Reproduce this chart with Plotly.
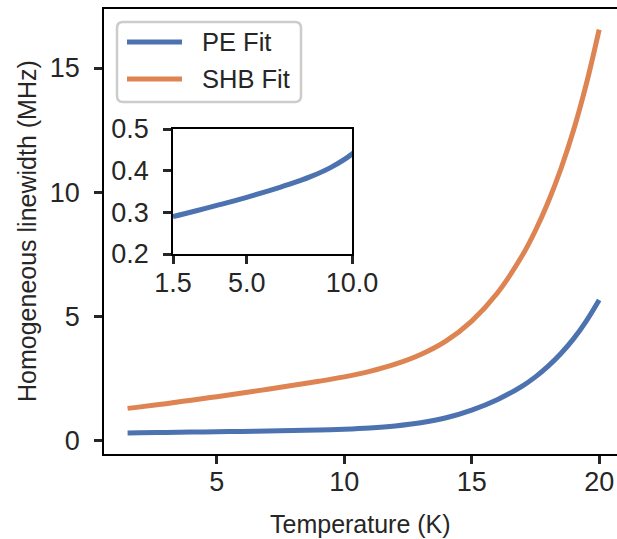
import plotly.graph_objects as go

# Fitted homogeneous linewidths (MHz) versus temperature (K)
temperature = [1.5, 2, 3, 4, 5, 6, 7, 8, 9, 10, 11, 12, 13, 14, 15, 16, 17, 17.5, 18, 18.5, 19, 19.5, 20]
pe_fit = [0.29, 0.296, 0.309, 0.322, 0.336, 0.351, 0.367, 0.385, 0.408, 0.44, 0.49, 0.572, 0.70, 0.90,
          1.21, 1.63, 2.19, 2.55, 2.98, 3.49, 4.09, 4.81, 5.65]
shb_fit = [1.28, 1.34, 1.47, 1.61, 1.75, 1.90, 2.05, 2.21, 2.37, 2.55, 2.77, 3.06, 3.45, 4.00,
           4.80, 5.92, 7.47, 8.45, 9.60, 10.94, 12.51, 14.37, 16.55]

x_ticks = [5, 10, 15, 20]
y_ticks = [0, 5, 10, 15]
inset_x_ticks = [1.5, 5.0, 10.0]
inset_x_labels = ["1.5", "5.0", "10.0"]
inset_y_ticks = [0.2, 0.3, 0.4, 0.5]

BLUE = "#4C72B0"
ORANGE = "#DD8452"
INK = "#262626"
FONT = "Liberation Sans, Arial, sans-serif"
TICK_SIZE = 27
LABEL_SIZE = 25
LEGEND_SIZE = 25.5
LINE_W = 5

W, H = 617, 539
ML, MR, MT, MB = 104, 0, 9, 85
PW, PH = W - ML - MR, H - MT - MB


def px(x):
    return (x - ML) / PW


def py(y):
    return (H - MB - y) / PH


fig = go.Figure()
fig.add_trace(go.Scatter(x=temperature, y=pe_fit, mode="lines", name="PE Fit",
                         line=dict(color=BLUE, width=LINE_W, shape="spline"), showlegend=False))
fig.add_trace(go.Scatter(x=temperature, y=shb_fit, mode="lines", name="SHB Fit",
                         line=dict(color=ORANGE, width=LINE_W, shape="spline"), showlegend=False))
# inset: PE fit at low temperature
fig.add_trace(go.Scatter(x=temperature, y=pe_fit, mode="lines", name="PE Fit",
                         line=dict(color=BLUE, width=LINE_W, shape="spline"), showlegend=False,
                         xaxis="x2", yaxis="y2"))

axis_common = dict(showgrid=False, zeroline=False, ticks="outside", ticklen=8, tickwidth=2.5,
                   tickcolor=INK, linecolor="black", linewidth=1.6, automargin=False,
                   tickfont=dict(family=FONT, size=TICK_SIZE, color=INK))

fig.update_layout(
    width=W, height=H,
    margin=dict(l=ML, r=MR, t=MT, b=MB),
    paper_bgcolor="white", plot_bgcolor="white",
    font=dict(family=FONT, color=INK),
    xaxis=dict(axis_common, range=[0.575, 20.7], tickvals=x_ticks, mirror=True, showline=True,
               ticklabelstandoff=-5),
    yaxis=dict(axis_common, range=[-0.56, 17.38], tickvals=y_ticks, showline=True,
               ticklabelstandoff=9),
    xaxis2=dict(axis_common, domain=[px(173), px(352)], anchor="y2", range=[1.5, 10],
                tickvals=inset_x_ticks, ticktext=inset_x_labels, mirror=True, showline=True,
                ticklabelstandoff=-4),
    yaxis2=dict(axis_common, domain=[py(254), py(129)], anchor="x2", range=[0.2, 0.5],
                tickvals=inset_y_ticks, tickformat=".1f", mirror=True, showline=True,
                ticklabelstandoff=9),
)

# axis titles
fig.add_annotation(x=px(360), y=py(524), xref="paper", yref="paper", text="Temperature (K)",
                   showarrow=False, xanchor="center", yanchor="middle",
                   font=dict(family=FONT, size=LABEL_SIZE, color=INK))
fig.add_annotation(x=px(27), y=py(231), xref="paper", yref="paper",
                   text="Homogeneous linewidth (MHz)", textangle=-90,
                   showarrow=False, xanchor="center", yanchor="middle",
                   font=dict(family=FONT, size=LABEL_SIZE, color=INK))

# legend drawn as a rounded frame with line samples and labels
x0, x1, y0, y1, r = px(117), px(301), py(22), py(102), 6
rx, ry = r / PW, r / PH
legend_path = (f"M {x0+rx},{y0} L {x1-rx},{y0} Q {x1},{y0} {x1},{y0-ry} "
               f"L {x1},{y1+ry} Q {x1},{y1} {x1-rx},{y1} L {x0+rx},{y1} Q {x0},{y1} {x0},{y1+ry} "
               f"L {x0},{y0-ry} Q {x0},{y0} {x0+rx},{y0} Z")
fig.add_shape(type="path", path=legend_path, xref="paper", yref="paper",
              line=dict(color="#CCCCCC", width=2.5), fillcolor="white", layer="above")
for label, color, ypix in [("PE Fit", BLUE, 42), ("SHB Fit", ORANGE, 79)]:
    fig.add_shape(type="line", xref="paper", yref="paper", x0=px(127), x1=px(182),
                  y0=py(ypix), y1=py(ypix), line=dict(color=color, width=LINE_W), layer="above")
    fig.add_annotation(x=px(200), y=py(ypix), xref="paper", yref="paper", text=label,
                       showarrow=False, xanchor="left", yanchor="middle",
                       font=dict(family=FONT, size=LEGEND_SIZE, color=INK))

fig.write_html("out.html")
